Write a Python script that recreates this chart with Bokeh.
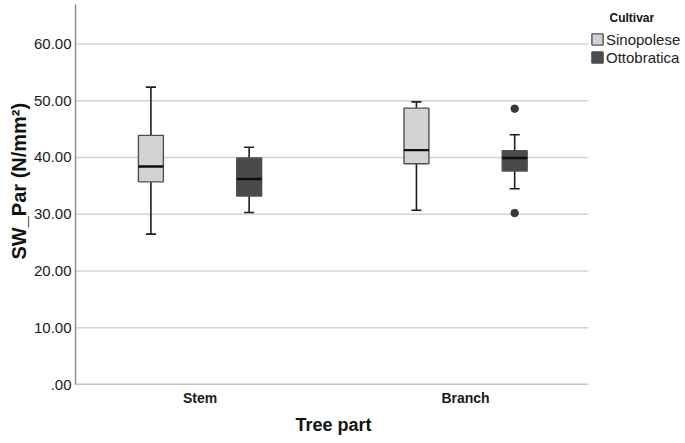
from bokeh.plotting import figure
from bokeh.models import Range1d, FixedTicker, Legend, LegendItem, ColumnDataSource, Label, Title
from bokeh.embed import file_html
from bokeh.resources import INLINE

parts = ["Stem", "Branch"]
cultivars = ["Sinopolese", "Ottobratica"]
part_pos = [1, 2]

sino_low = [26.5, 30.7]
sino_q1 = [35.7, 38.9]
sino_med = [38.4, 41.3]
sino_q3 = [43.9, 48.7]
sino_high = [52.4, 49.8]

otto_low = [30.3, 34.5]
otto_q1 = [33.2, 37.6]
otto_med = [36.2, 39.9]
otto_q3 = [39.9, 41.2]
otto_high = [41.8, 44.0]

otto_outlier_part = [2, 2]
otto_outlier_val = [48.6, 30.2]

y_ticks = [0, 10, 20, 30, 40, 50, 60]

fills = {"Sinopolese": "#d3d3d3", "Ottobratica": "#4a4a4a"}
offsets = {"Sinopolese": -0.185, "Ottobratica": 0.185}
box_w = 0.094
cap_w = 0.038

FONT = "Liberation Sans"

# plotting area: x from X0 to X_PLOT_END (513 px); the frame continues right to hold the legend
X0, X_PLOT_END = 0.531, 2.463
PLOT_W = 513
FRAME_W, FRAME_H = 610, 380
px_x = PLOT_W / (X_PLOT_END - X0)
X_FRAME_END = X0 + FRAME_W / px_x
Y0, Y1 = 0, 66.95
px_y = FRAME_H / (Y1 - Y0)

p = figure(frame_width=FRAME_W, frame_height=FRAME_H, output_backend="svg", toolbar_location=None,
           x_range=Range1d(X0, X_FRAME_END), y_range=Range1d(Y0, Y1),
           min_border_left=75, min_border_right=0, min_border_top=4, min_border_bottom=50)
p.outline_line_color = None
p.background_fill_color = "white"
p.border_fill_color = "white"

# horizontal grid lines over the plotting area only
grid_src = ColumnDataSource(dict(y=y_ticks[1:], x0=[X0] * (len(y_ticks) - 1),
                                 x1=[X_PLOT_END] * (len(y_ticks) - 1)))
p.segment(x0="x0", y0="y", x1="x1", y1="y", source=grid_src, line_color="#d4d4d4", line_width=1.5)

series = {
    "Sinopolese": (sino_low, sino_q1, sino_med, sino_q3, sino_high),
    "Ottobratica": (otto_low, otto_q1, otto_med, otto_q3, otto_high),
}
legend_items = []
for c in cultivars:
    lo, q1, med, q3, hi = series[c]
    xs = [pp + offsets[c] for pp in part_pos]
    src = ColumnDataSource(dict(x=xs, lo=lo, q1=q1, med=med, q3=q3, hi=hi,
                                cl=[x - cap_w / 2 for x in xs], cr=[x + cap_w / 2 for x in xs],
                                bl=[x - box_w / 2 for x in xs], br=[x + box_w / 2 for x in xs]))
    p.segment(x0="x", y0="q3", x1="x", y1="hi", source=src, line_color="#1e1e1e", line_width=1.6)
    p.segment(x0="x", y0="lo", x1="x", y1="q1", source=src, line_color="#1e1e1e", line_width=1.6)
    p.segment(x0="cl", y0="hi", x1="cr", y1="hi", source=src, line_color="#1e1e1e", line_width=1.6)
    p.segment(x0="cl", y0="lo", x1="cr", y1="lo", source=src, line_color="#1e1e1e", line_width=1.6)
    r = p.vbar(x="x", width=box_w, bottom="q1", top="q3", source=src,
               fill_color=fills[c], line_color="#505050", line_width=1.4)
    p.segment(x0="bl", y0="med", x1="br", y1="med", source=src, line_color="#0e0e0e", line_width=2.4)
    legend_items.append(LegendItem(label=c, renderers=[r]))

p.scatter([pp + offsets["Ottobratica"] for pp in otto_outlier_part], otto_outlier_val,
          size=7.5, fill_color="#3a3a3a", line_color="#3a3a3a")

# x axis baseline over the plotting area only
p.segment(x0=[X0], y0=[Y0], x1=[X_PLOT_END], y1=[Y0], line_color="#8c8c8c", line_width=1.6)

# axes
p.xaxis.ticker = FixedTicker(ticks=part_pos)
p.xaxis.major_label_overrides = {pp: name for pp, name in zip(part_pos, parts)}
p.yaxis.ticker = FixedTicker(ticks=y_ticks)
p.yaxis.major_label_overrides = {v: (f"{v:.2f}" if v else ".00") for v in y_ticks}
for ax in (p.xaxis, p.yaxis):
    ax.axis_line_color = "#8c8c8c"
    ax.axis_line_width = 1.4
    ax.major_tick_line_color = None
    ax.minor_tick_line_color = None
    ax.major_tick_out = 0
    ax.major_tick_in = 0
    ax.major_label_text_font = FONT
    ax.major_label_text_color = "#1a1a1a"
p.xaxis.axis_line_color = None

p.yaxis.major_label_text_font_size = "15px"
p.yaxis.major_label_standoff = 4
p.xaxis.major_label_text_font_size = "14px"
p.xaxis.major_label_text_font_style = "bold"
p.xaxis.major_label_standoff = 5

# axis titles as side-panel titles, placed over the plotting area
p.add_layout(Title(text="SW_Par  (N/mm²)", align="left", offset=125, standoff=2,
                   text_font=FONT, text_font_style="bold", text_font_size="20px",
                   text_color="#111111"), "left")
p.add_layout(Title(text="Tree part", align="left", offset=220,
                   standoff=9, text_font=FONT, text_font_style="bold", text_font_size="18px",
                   text_color="#111111"), "below")

p.xgrid.visible = False
p.ygrid.visible = False

# legend to the right of the plotting area
leg_x = PLOT_W + 2
leg_y = FRAME_H - 62
legend = Legend(items=legend_items, location=(leg_x, leg_y))
legend.label_text_font = FONT
legend.label_text_font_size = "15px"
legend.label_text_color = "#222222"
legend.glyph_width = 14
legend.glyph_height = 14
legend.label_height = 18
legend.label_standoff = 2
legend.spacing = 0
legend.padding = 0
legend.margin = 0
legend.border_line_color = None
legend.background_fill_alpha = 0
p.add_layout(legend)

p.add_layout(Label(x=X_PLOT_END + 21 / px_x, y=Y1 - 13 / px_y, text="Cultivar",
                   text_font=FONT, text_font_style="bold", text_font_size="12px",
                   text_color="#111111", text_baseline="middle"))

open("out.html", "w").write(file_html(p, INLINE))
